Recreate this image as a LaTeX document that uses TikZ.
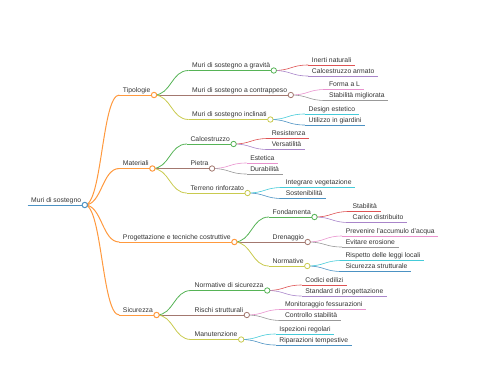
\documentclass[tikz,border=0pt]{standalone}
\usepackage{fontspec}
\setmainfont{Liberation Sans}
\usetikzlibrary{calc,backgrounds}
\definecolor{cblue}{HTML}{4C92C3}
\definecolor{corange}{HTML}{FF993E}
\definecolor{cgreen}{HTML}{56B356}
\definecolor{cred}{HTML}{DE5253}
\definecolor{cpurple}{HTML}{A985CA}
\definecolor{cbrown}{HTML}{A3786F}
\definecolor{cpink}{HTML}{E992CE}
\definecolor{cgray}{HTML}{999999}
\definecolor{colive}{HTML}{C9CA4E}
\definecolor{ccyan}{HTML}{45CBD9}
\definecolor{ink}{HTML}{333333}
% topic with underline and end circle: name, look, position, text
\newcommand{\mmtopic}[4]{\node[txt] (#1) at (#3) {#4};
  \draw[#2] (#1.south west) -- (#1.south east);
  \node[dot,#2,fill=white] (#1-o) at (#1.south east) {};}
% leaf: underline only
\newcommand{\mmleaf}[4]{\node[txt] (#1) at (#3) {#4};
  \draw[#2] (#1.south west) -- (#1.south east);}
% horizontal s-curve from a circle to the start of a child's underline
\newcommand{\mmlink}[3]{\draw[#1] let \p1=(#2.center),\p2=(#3.south west) in
  (\p1) .. controls ({(\x1+\x2)/2},\y1) and ({(\x1+\x2)/2},\y2) .. (\p2);}

\begin{document}
\begin{tikzpicture}[x=1pt,y=-1pt,
  txt/.style={anchor=south west,inner xsep=3.5pt,inner ysep=2.4pt,text depth=0pt,
    font=\fontsize{6.8}{8}\selectfont,text=ink},
  dot/.style={circle,draw,inner sep=0pt,minimum size=5.4pt},
  l1/.style={line width=1pt},l2/.style={line width=0.8pt},l3/.style={line width=0.6pt}]
\useasboundingbox (0,0) rectangle (480,384);
\mmtopic{root}{cblue,l1}{27.5,205}{Muri di sostegno}
% level 1
\mmtopic{tipo}{corange,l1}{$(root.south east)+(34.5,-110)$}{Tipologie}
\mmtopic{mat}{corange,l1}{$(root.south east)+(34.5,-36.5)$}{Materiali}
\mmtopic{prog}{corange,l1}{$(root.south east)+(34.5,37)$}{Progettazione e tecniche costruttive}
\mmtopic{sic}{corange,l1}{$(root.south east)+(34.5,110)$}{Sicurezza}
% Tipologie
\mmtopic{grav}{cgreen,l2}{$(tipo.south east)+(34.5,-24.5)$}{Muri di sostegno a gravità}
\mmtopic{contr}{cbrown,l2}{$(tipo.south east)+(34.5,0)$}{Muri di sostegno a contrappeso}
\mmtopic{incl}{colive,l2}{$(tipo.south east)+(34.5,24.5)$}{Muri di sostegno inclinati}
\mmleaf{inerti}{cred,l3}{$(grav.south east)+(34.5,-5.5)$}{Inerti naturali}
\mmleaf{armato}{cpurple,l3}{$(grav.south east)+(34.5,5.5)$}{Calcestruzzo armato}
\mmleaf{forma}{cpink,l3}{$(contr.south east)+(34.5,-5.5)$}{Forma a L}
\mmleaf{stabm}{cgray,l3}{$(contr.south east)+(34.5,5.5)$}{Stabilità migliorata}
\mmleaf{design}{ccyan,l3}{$(incl.south east)+(34.5,-5.5)$}{Design estetico}
\mmleaf{giard}{cblue,l3}{$(incl.south east)+(34.5,5.5)$}{Utilizzo in giardini}
% Materiali
\mmtopic{calc}{cgreen,l2}{$(mat.south east)+(34.5,-24.5)$}{Calcestruzzo}
\mmtopic{pietra}{cbrown,l2}{$(mat.south east)+(34.5,0)$}{Pietra}
\mmtopic{terr}{colive,l2}{$(mat.south east)+(34.5,24.5)$}{Terreno rinforzato}
\mmleaf{resist}{cred,l3}{$(calc.south east)+(34.5,-5.5)$}{Resistenza}
\mmleaf{versat}{cpurple,l3}{$(calc.south east)+(34.5,5.5)$}{Versatilità}
\mmleaf{estet}{cpink,l3}{$(pietra.south east)+(34.5,-5.5)$}{Estetica}
\mmleaf{durab}{cgray,l3}{$(pietra.south east)+(34.5,5.5)$}{Durabilità}
\mmleaf{integr}{ccyan,l3}{$(terr.south east)+(34.5,-5.5)$}{Integrare vegetazione}
\mmleaf{sosten}{cblue,l3}{$(terr.south east)+(34.5,5.5)$}{Sostenibilità}
% Progettazione
\mmtopic{fond}{cgreen,l2}{$(prog.south east)+(34.5,-25)$}{Fondamenta}
\mmtopic{dren}{cbrown,l2}{$(prog.south east)+(34.5,0)$}{Drenaggio}
\mmtopic{norm}{colive,l2}{$(prog.south east)+(34.5,24)$}{Normative}
\mmleaf{stab}{cred,l3}{$(fond.south east)+(34.5,-5.5)$}{Stabilità}
\mmleaf{carico}{cpurple,l3}{$(fond.south east)+(34.5,5.5)$}{Carico distribuito}
\mmleaf{preven}{cpink,l3}{$(dren.south east)+(34.5,-6)$}{Prevenire l'accumulo d'acqua}
\mmleaf{eros}{cgray,l3}{$(dren.south east)+(34.5,5)$}{Evitare erosione}
\mmleaf{leggi}{ccyan,l3}{$(norm.south east)+(34.5,-5.5)$}{Rispetto delle leggi locali}
\mmleaf{sicstr}{cblue,l3}{$(norm.south east)+(34.5,5.5)$}{Sicurezza strutturale}
% Sicurezza
\mmtopic{nsic}{cgreen,l2}{$(sic.south east)+(34.5,-24.5)$}{Normative di sicurezza}
\mmtopic{risch}{cbrown,l2}{$(sic.south east)+(34.5,0)$}{Rischi strutturali}
\mmtopic{manut}{colive,l2}{$(sic.south east)+(34.5,24.5)$}{Manutenzione}
\mmleaf{codici}{cred,l3}{$(nsic.south east)+(34.5,-5.5)$}{Codici edilizi}
\mmleaf{standard}{cpurple,l3}{$(nsic.south east)+(34.5,5.5)$}{Standard di progettazione}
\mmleaf{monit}{cpink,l3}{$(risch.south east)+(34.5,-5.5)$}{Monitoraggio fessurazioni}
\mmleaf{contst}{cgray,l3}{$(risch.south east)+(34.5,5.5)$}{Controllo stabilità}
\mmleaf{ispez}{ccyan,l3}{$(manut.south east)+(34.5,-5.5)$}{Ispezioni regolari}
\mmleaf{ripar}{cblue,l3}{$(manut.south east)+(34.5,5.5)$}{Riparazioni tempestive}
\begin{scope}[on background layer]
\foreach \kid in {tipo,mat,prog,sic} {\mmlink{corange,l1}{root-o}{\kid}}
\foreach \up/\ka/\kb/\kc in {tipo/grav/contr/incl,mat/calc/pietra/terr,prog/fond/dren/norm,sic/nsic/risch/manut} {%
  \mmlink{cgreen,l2}{\up-o}{\ka}
  \mmlink{cbrown,l2}{\up-o}{\kb}
  \mmlink{colive,l2}{\up-o}{\kc}}
\foreach \up/\ka/\kb in {grav/inerti/armato,calc/resist/versat,fond/stab/carico,nsic/codici/standard} {%
  \mmlink{cred,l3}{\up-o}{\ka}
  \mmlink{cpurple,l3}{\up-o}{\kb}}
\foreach \up/\ka/\kb in {contr/forma/stabm,pietra/estet/durab,dren/preven/eros,risch/monit/contst} {%
  \mmlink{cpink,l3}{\up-o}{\ka}
  \mmlink{cgray,l3}{\up-o}{\kb}}
\foreach \up/\ka/\kb in {incl/design/giard,terr/integr/sosten,norm/leggi/sicstr,manut/ispez/ripar} {%
  \mmlink{ccyan,l3}{\up-o}{\ka}
  \mmlink{cblue,l3}{\up-o}{\kb}}
\end{scope}
\end{tikzpicture}
\end{document}
